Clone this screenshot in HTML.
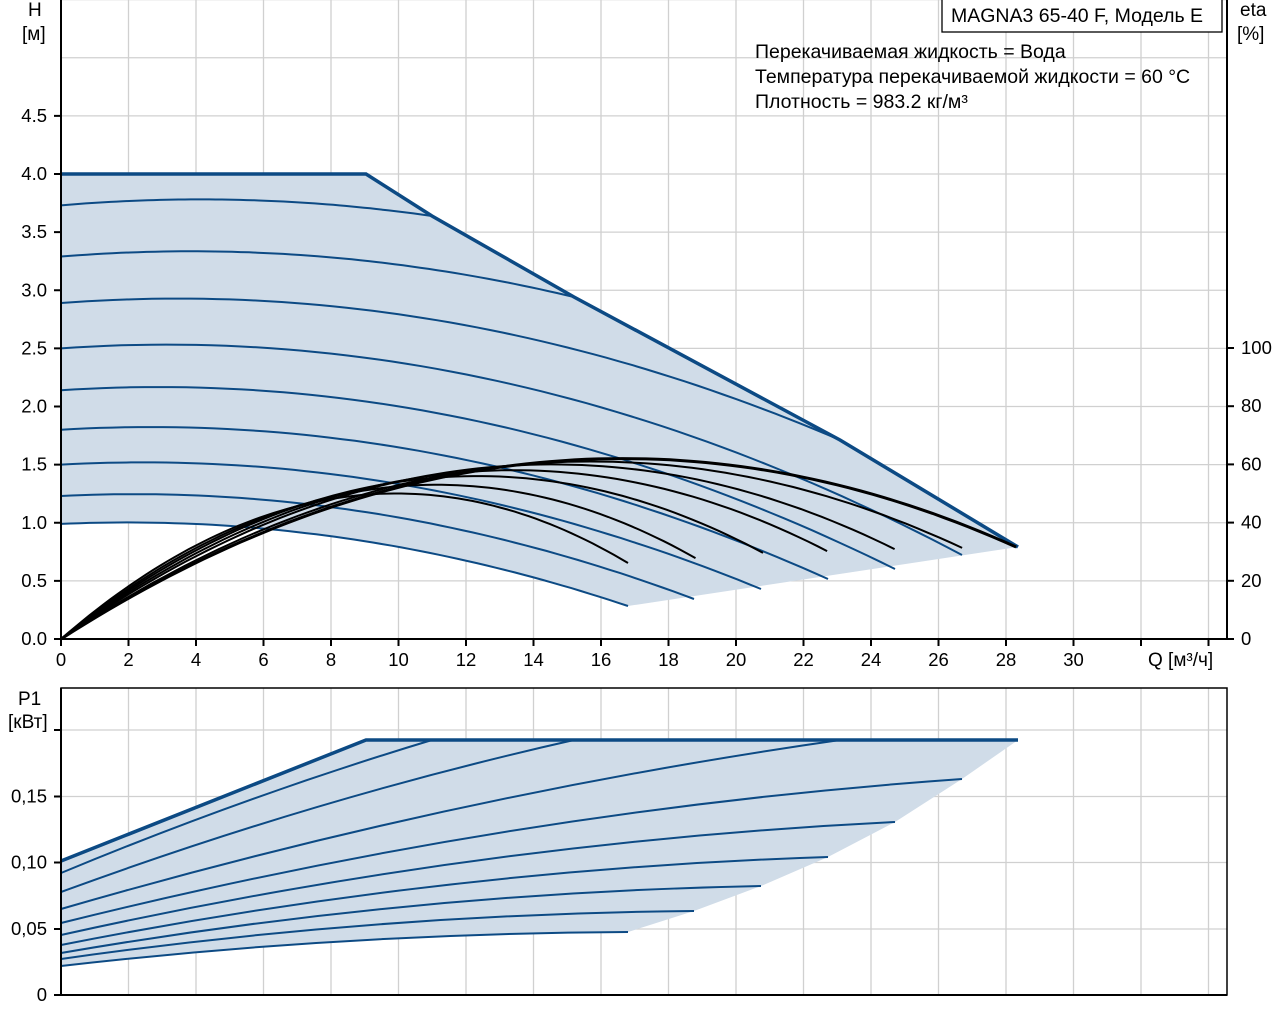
<!DOCTYPE html>
<html><head><meta charset="utf-8"><style>
html,body{margin:0;padding:0;background:#fff;}
svg{display:block;}
text{font-family:"Liberation Sans",sans-serif;font-size:18.5px;fill:#000;}
</style></head><body>
<svg id="s" width="1280" height="1024" xmlns="http://www.w3.org/2000/svg">
<g id="grid" stroke="#d0d0d0" stroke-width="1.3"></g>
<path id="hfill" fill="#d0dce8" stroke="none"/>
<path id="pfill" fill="#d0dce8" stroke="none"/>
<g id="hcurves" fill="none" stroke="#0c4a84" stroke-width="2"></g>
<g id="eta" fill="none" stroke="#000" stroke-width="2"></g>
<g id="pcurves" fill="none" stroke="#0c4a84" stroke-width="2"></g>
<g id="axes" stroke="#000" stroke-width="2" fill="none"></g>
<g id="labels"></g>
<rect x="942" y="-2" width="280" height="34" fill="#fff" stroke="#000" stroke-width="1.3"/>
<text x="951" y="22" style="font-size:19.5px">MAGNA3 65-40 F, Модель E</text>
<text x="755" y="58" style="font-size:19.5px">Перекачиваемая жидкость = Вода</text>
<text x="755" y="83" style="font-size:19.5px">Температура перекачиваемой жидкости = 60 °C</text>
<text x="755" y="108" style="font-size:19.5px">Плотность = 983.2 кг/м³</text>
<text x="28" y="16" style="font-size:19px">H</text>
<text x="22" y="40" style="font-size:19px">[м]</text>
<text x="1240" y="16" style="font-size:19px">eta</text>
<text x="1237" y="40" style="font-size:19px">[%]</text>
<text x="1148" y="666" style="font-size:19px">Q [м³/ч]</text>
<text x="18" y="705" style="font-size:19px">P1</text>
<text x="8" y="728" style="font-size:19px">[кВт]</text>
</svg>
<script>
var NS="http://www.w3.org/2000/svg";
function el(p,t,a,txt){var e=document.createElementNS(NS,t);for(var k in a)e.setAttribute(k,a[k]);if(txt!==undefined)e.textContent=txt;document.getElementById(p).appendChild(e);return e;}
var X=function(q){return 61+q*33.75;};
var HY=function(h){return 639-h*116.25;};
var EY=function(e){return 639-e*2.91;};
for(var q=2;q<=34;q+=2){el("grid","line",{x1:X(q),y1:0,x2:X(q),y2:639});el("grid","line",{x1:X(q),y1:688,x2:X(q),y2:995});}
for(var h=0.5;h<=5.5;h+=0.5){el("grid","line",{x1:61,y1:HY(h),x2:1227,y2:HY(h)});}
[929,862.5,796.5,730].forEach(function(y){el("grid","line",{x1:61,y1:y,x2:1227,y2:y});});
var starts=[3.73,3.29,2.89,2.5,2.14,1.8,1.5,1.23,0.99];
var ends=[432,574,840,962,895,828,761,694,628];
var C=0.0032,B=0.025,A=3.73;
function H(q,h0){var s=Math.sqrt(h0/A);return h0+B*s*q-C*q*q;}
var boundary=[[61,174],[366,174],[432,216],[574,297],[840,440],[1018,547]];
function bY(x){for(var i=0;i<boundary.length-1;i++){var a=boundary[i],b=boundary[i+1];if(x>=a[0]&&x<=b[0])return a[1]+(b[1]-a[1])*(x-a[0])/(b[0]-a[0]);}return 547;}
var lowPts=[];
starts.forEach(function(h0,i){
 var qe=(ends[i]-61)/33.75,d="",pts=[];
 for(var k=0;k<=60;k++){var q=qe*k/60;var y=HY(H(q,h0));pts.push([X(q),y]);}
 var tgt=(i<3)?bY(ends[i]):[555,569,579,589,599,606][i-3];
 var dy=tgt-pts[60][1];pts=pts.map(function(p,k){return [p[0],p[1]+dy*Math.pow(k/60,2)];});
 d=pts.map(function(p,k){return (k?"L":"M")+p[0].toFixed(1)+" "+p[1].toFixed(1);}).join("");
 el("hcurves","path",{d:d});
 if(i==8)lowPts=pts;
});
el("hcurves","path",{d:"M61 174L366 174L432 216L574 297L840 440L1018 547","stroke-width":"3.5"});
var fd="M61 174L366 174L432 216L574 297L840 440L1018 547L628 606";
for(var k=60;k>=0;k--)fd+="L"+lowPts[k][0].toFixed(1)+" "+lowPts[k][1].toFixed(1);
document.getElementById("hfill").setAttribute("d",fd+"Z");
var eQe=[16.8,18.8,20.8,22.7,24.7,26.7,28.3],eEe=[26.1,27.8,29.6,30.2,30.9,31.3,31.6],eEp=[50,53,56,58,60,61,62];
for(var i=0;i<7;i++){var Ep=eEp[i],Qp=eQe[i]/(1+Math.sqrt(1-eEe[i]/Ep));var d="";
 for(var k=0;k<=80;k++){var q=eQe[i]*k/80;var e=Ep*(1-Math.pow(1-q/Qp,2));d+=(k?"L":"M")+X(q).toFixed(1)+" "+EY(e).toFixed(1);}
 el("eta","path",{d:d,"stroke-width":i==6?3:2});}
var pS=[873,892,909,923,935,945,953,959,966];
var pE=[[432,740],[574,740],[840,740],[962,779],[895,822],[828,857],[761,886],[694,911],[628,932]];
var fr=[0.42,0.38,0.33,0.22,0.18,0.14,0.1,0.06,0.04];
var lowP="";
pS.forEach(function(y0,i){var x1=pE[i][0],y1=pE[i][1];var cx=61+0.5*(x1-61),cy=y1+fr[i]*(y0-y1);
 el("pcurves","path",{d:"M61 "+y0+"Q"+cx+" "+cy.toFixed(1)+" "+x1+" "+y1});
 if(i==8)lowP="Q"+cx+" "+cy.toFixed(1)+" 61 "+y0;});
el("pcurves","path",{d:"M61 861L366 740L1018 740","stroke-width":"3.5"});
document.getElementById("pfill").setAttribute("d","M61 861L366 740L1018 740L962 779L895 822L828 857L761 886L694 911L628 932"+lowP+"Z");
el("axes","path",{d:"M61 0L61 639L1227 639L1227 0"});
el("axes","rect",{x:61,y:688,width:1166,height:307,"stroke-width":1.5});
el("axes","line",{x1:61,y1:995,x2:1227,y2:995});
el("axes","line",{x1:61,y1:688,x2:61,y2:995});
for(var h=0;h<=4.5;h+=0.5){el("axes","line",{x1:54,y1:HY(h),x2:61,y2:HY(h)});el("labels","text",{x:47,y:HY(h)+6,"text-anchor":"end"},h.toFixed(1));}
for(var q=0;q<=34;q+=2){el("axes","line",{x1:X(q),y1:639,x2:X(q),y2:646});if(q<=30)el("labels","text",{x:X(q),y:666,"text-anchor":"middle"},""+q);}
for(var e=0;e<=100;e+=20){el("axes","line",{x1:1227,y1:EY(e),x2:1234,y2:EY(e)});el("labels","text",{x:1241,y:EY(e)+6},""+e);}
[[995,"0"],[929,"0,05"],[862.5,"0,10"],[796.5,"0,15"],[730,""]].forEach(function(a){el("axes","line",{x1:54,y1:a[0],x2:61,y2:a[0]});if(a[1])el("labels","text",{x:47,y:a[0]+6,"text-anchor":"end"},a[1]);});
</script>
</body></html>
